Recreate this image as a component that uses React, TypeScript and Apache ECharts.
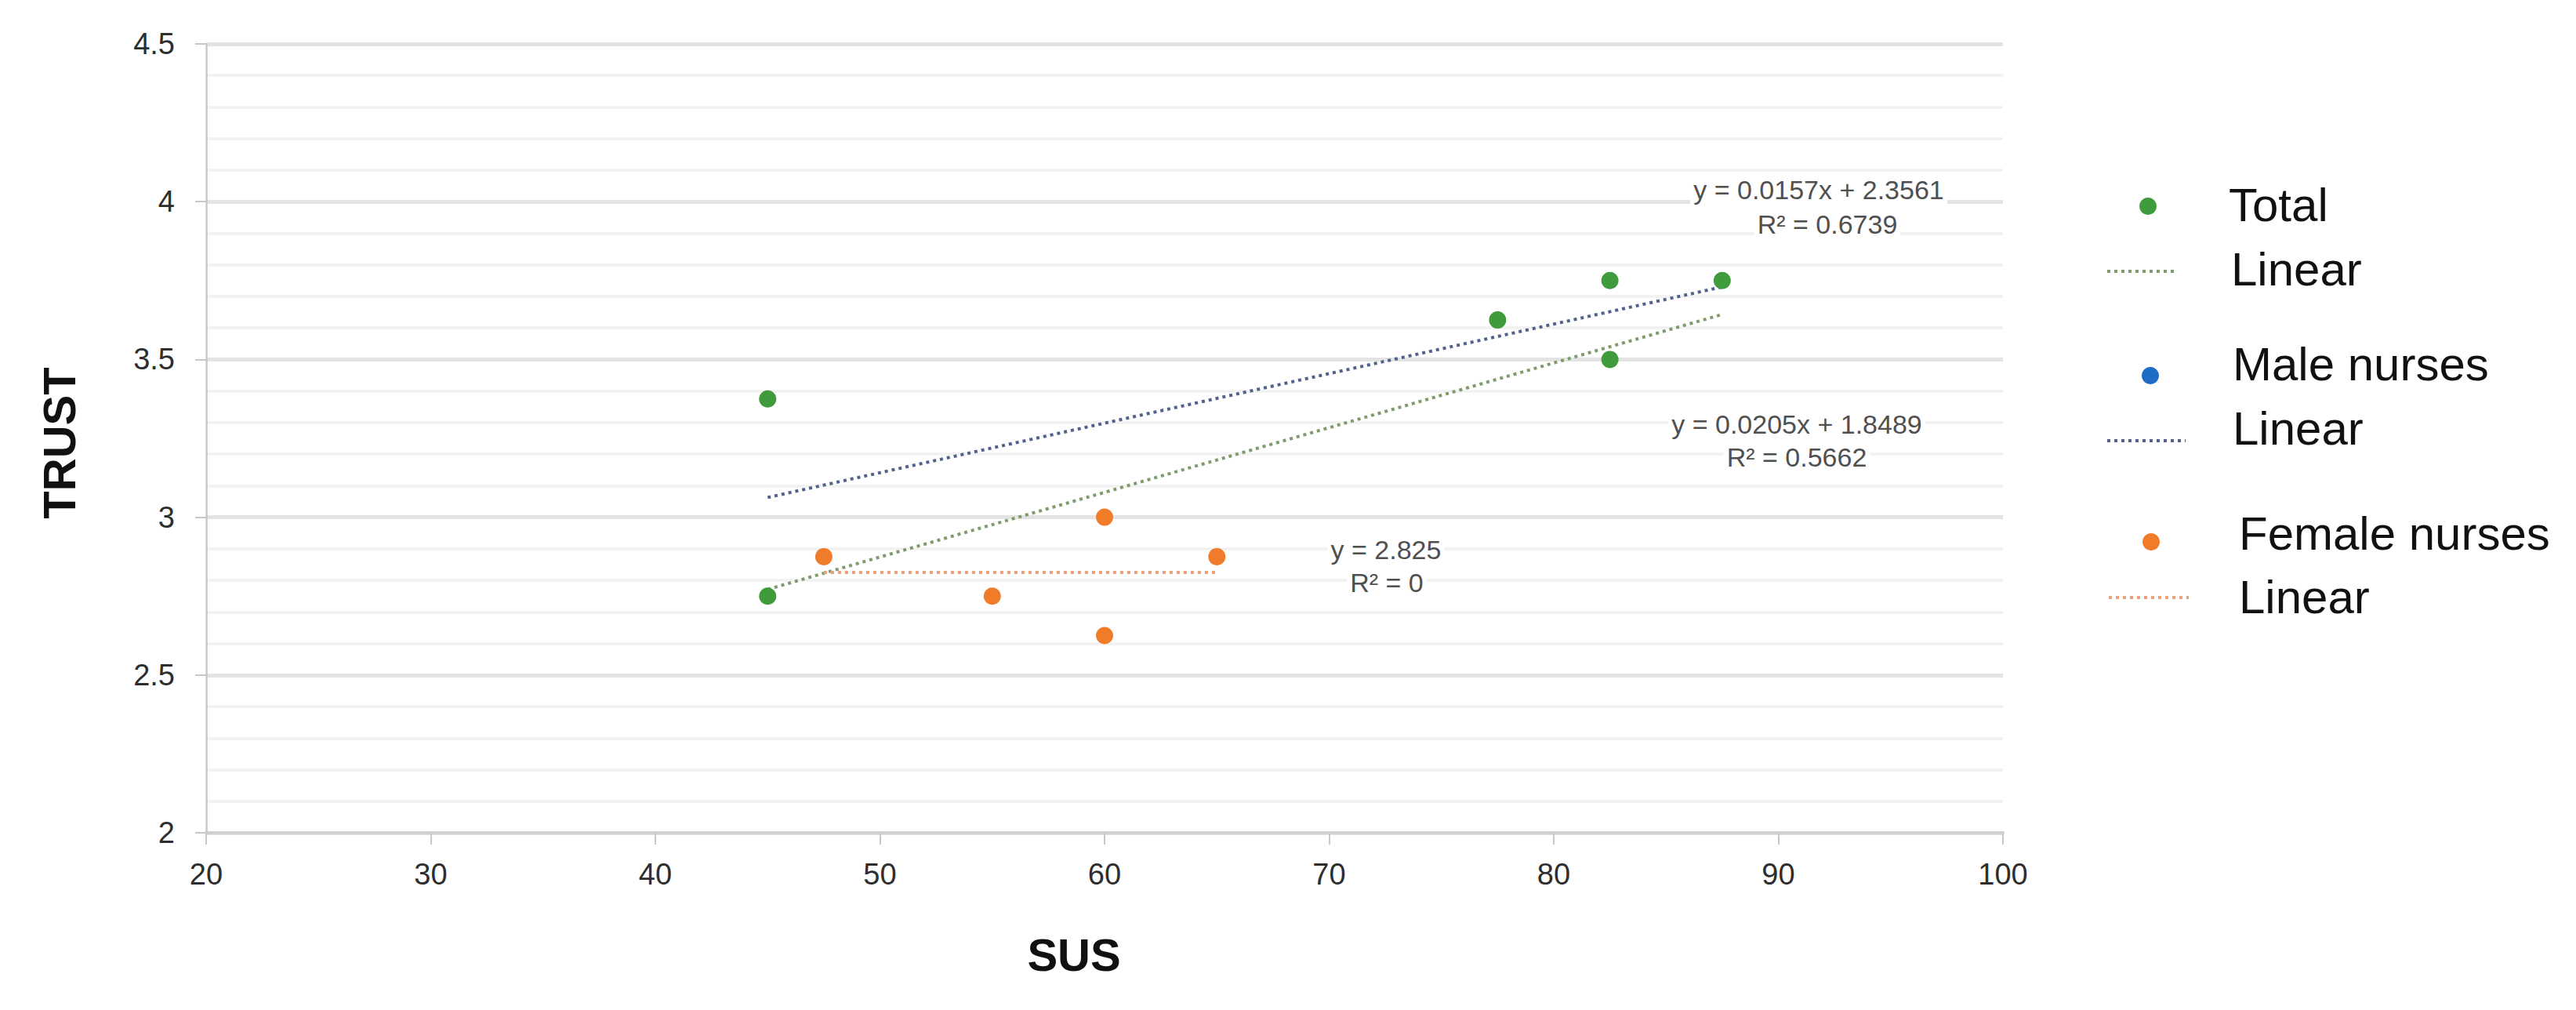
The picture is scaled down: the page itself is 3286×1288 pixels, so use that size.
import React, { useEffect, useRef } from "react";
import * as echarts from "echarts";

// ---- data ----
const totalPoints: [number, number][] = [
  [45, 3.375],
  [45, 2.75],
  [77.5, 3.625],
  [82.5, 3.75],
  [82.5, 3.5],
  [87.5, 3.75],
];
const malePoints: [number, number][] = [];
const femalePoints: [number, number][] = [
  [47.5, 2.875],
  [55, 2.75],
  [60, 3.0],
  [60, 2.625],
  [65, 2.875],
];
// trendline end points (from the equations printed on the chart)
const totalTrend: [number, number][] = [
  [45, 2.7714],
  [87.5, 3.6427],
];
const maleTrend: [number, number][] = [
  [45, 3.0626],
  [87.5, 3.7299],
];
const femaleTrend: [number, number][] = [
  [47.5, 2.825],
  [65, 2.825],
];
const equationTexts = [
  "y = 0.0157x + 2.3561",
  "R² = 0.6739",
  "y = 0.0205x + 1.8489",
  "R² = 0.5662",
  "y = 2.825",
  "R² = 0",
];
const legendLabels = ["Total", "Linear", "Male nurses", "Linear", "Female nurses", "Linear"];

const GREEN = "#3f9b3c";
const BLUE = "#1f6cc7";
const ORANGE = "#f07b28";
const GREEN_LINE = "#7f9c6e";
const BLUE_LINE = "#51638c";
const ORANGE_LINE = "#e9a27a";
const FONT = "'Liberation Sans', Arial, sans-serif";

export default function App() {
  const ref = useRef<HTMLDivElement>(null);
  useEffect(() => {
    document.body.style.margin = "0";
    const chart = echarts.init(ref.current!, null, { renderer: "svg" });
    const annStyle = {
      fill: "#505050",
      fontSize: 34,
      fontFamily: FONT,
      textAlign: "center",
      textVerticalAlign: "middle",
      backgroundColor: "#ffffff",
      padding: [1, 4, 1, 4],
    };
    const legStyle = { fill: "#111111", fontSize: 60, fontFamily: FONT, textAlign: "left", textVerticalAlign: "middle" };
    const dotted = [4, 5];
    chart.setOption({
      animation: false,
      backgroundColor: "#ffffff",
      grid: { left: 263, right: 731, top: 56, bottom: 226 },
      xAxis: {
        type: "value",
        min: 20,
        max: 100,
        interval: 10,
        axisLine: { show: true, onZero: false, lineStyle: { color: "#d0d0d0", width: 4 } },
        axisTick: { show: true, length: 15, lineStyle: { color: "#c8c8c8", width: 2 } },
        axisLabel: { color: "#2e2e2e", fontSize: 38, fontFamily: FONT, margin: 34 },
        splitLine: { show: false },
      },
      yAxis: {
        type: "value",
        min: 2,
        max: 4.5,
        interval: 0.5,
        axisLine: { show: true, onZero: false, lineStyle: { color: "#c8c8c8", width: 2.5 } },
        axisTick: { show: true, length: 14, lineStyle: { color: "#c8c8c8", width: 2 } },
        axisLabel: { color: "#2e2e2e", fontSize: 38, fontFamily: FONT, margin: 40 },
        splitLine: { show: true, lineStyle: { color: "#e3e3e3", width: 5 } },
        minorTick: { show: false, splitNumber: 5 },
        minorSplitLine: { show: true, lineStyle: { color: "#f1f1f1", width: 3.5 } },
      },
      series: [
        {
          name: "Linear (Total)",
          type: "line",
          data: totalTrend,
          showSymbol: false,
          symbol: "none",
          lineStyle: { color: GREEN_LINE, width: 4, type: dotted },
          z: 2,
        },
        {
          name: "Linear (Male nurses)",
          type: "line",
          data: maleTrend,
          showSymbol: false,
          symbol: "none",
          lineStyle: { color: BLUE_LINE, width: 4, type: dotted },
          z: 2,
        },
        {
          name: "Linear (Female nurses)",
          type: "line",
          data: femaleTrend,
          showSymbol: false,
          symbol: "none",
          lineStyle: { color: ORANGE_LINE, width: 4, type: dotted },
          z: 2,
        },
        { name: "Total", type: "scatter", data: totalPoints, symbolSize: 22, itemStyle: { color: GREEN, opacity: 1 }, z: 5 },
        { name: "Male nurses", type: "scatter", data: malePoints, symbolSize: 22, itemStyle: { color: BLUE, opacity: 1 }, z: 5 },
        { name: "Female nurses", type: "scatter", data: femalePoints, symbolSize: 22, itemStyle: { color: ORANGE, opacity: 1 }, z: 5 },
      ],
      graphic: [
        // axis titles
        {
          type: "text",
          x: 75,
          y: 565,
          rotation: Math.PI / 2,
          style: { text: "TRUST", fill: "#111", fontSize: 58, fontWeight: "bold", fontFamily: FONT, textAlign: "center", textVerticalAlign: "middle" },
        },
        {
          type: "text",
          x: 1370,
          y: 1217,
          style: { text: "SUS", fill: "#111", fontSize: 58, fontWeight: "bold", fontFamily: FONT, textAlign: "center", textVerticalAlign: "middle" },
        },
        // trendline equations
        { type: "text", x: 2320, y: 242, z: 10, style: { ...annStyle, text: equationTexts[0] } },
        { type: "text", x: 2331, y: 286, z: 10, style: { ...annStyle, text: equationTexts[1] } },
        { type: "text", x: 2292, y: 541, z: 10, style: { ...annStyle, text: equationTexts[2] } },
        { type: "text", x: 2292, y: 583, z: 10, style: { ...annStyle, text: equationTexts[3] } },
        { type: "text", x: 1768, y: 701, z: 10, style: { ...annStyle, text: equationTexts[4] } },
        { type: "text", x: 1769, y: 743, z: 10, style: { ...annStyle, text: equationTexts[5] } },
        // legend
        { type: "circle", shape: { cx: 2740, cy: 263, r: 11 }, style: { fill: GREEN } },
        { type: "text", x: 2843, y: 261, style: { ...legStyle, text: legendLabels[0] } },
        { type: "line", shape: { x1: 2688, y1: 346, x2: 2778, y2: 346 }, style: { stroke: GREEN_LINE, lineWidth: 4, lineDash: dotted } },
        { type: "text", x: 2846, y: 343, style: { ...legStyle, text: legendLabels[1] } },
        { type: "circle", shape: { cx: 2743, cy: 479, r: 11 }, style: { fill: BLUE } },
        { type: "text", x: 2848, y: 464, style: { ...legStyle, text: legendLabels[2] } },
        { type: "line", shape: { x1: 2688, y1: 562, x2: 2788, y2: 562 }, style: { stroke: BLUE_LINE, lineWidth: 4, lineDash: dotted } },
        { type: "text", x: 2848, y: 546, style: { ...legStyle, text: legendLabels[3] } },
        { type: "circle", shape: { cx: 2744, cy: 691, r: 11 }, style: { fill: ORANGE } },
        { type: "text", x: 2856, y: 680, style: { ...legStyle, text: legendLabels[4] } },
        { type: "line", shape: { x1: 2690, y1: 762, x2: 2792, y2: 762 }, style: { stroke: ORANGE_LINE, lineWidth: 4, lineDash: dotted } },
        { type: "text", x: 2856, y: 761, style: { ...legStyle, text: legendLabels[5] } },
      ],
    });
    return () => chart.dispose();
  }, []);
  return <div ref={ref} style={{ width: 3286, height: 1288 }} />;
}
